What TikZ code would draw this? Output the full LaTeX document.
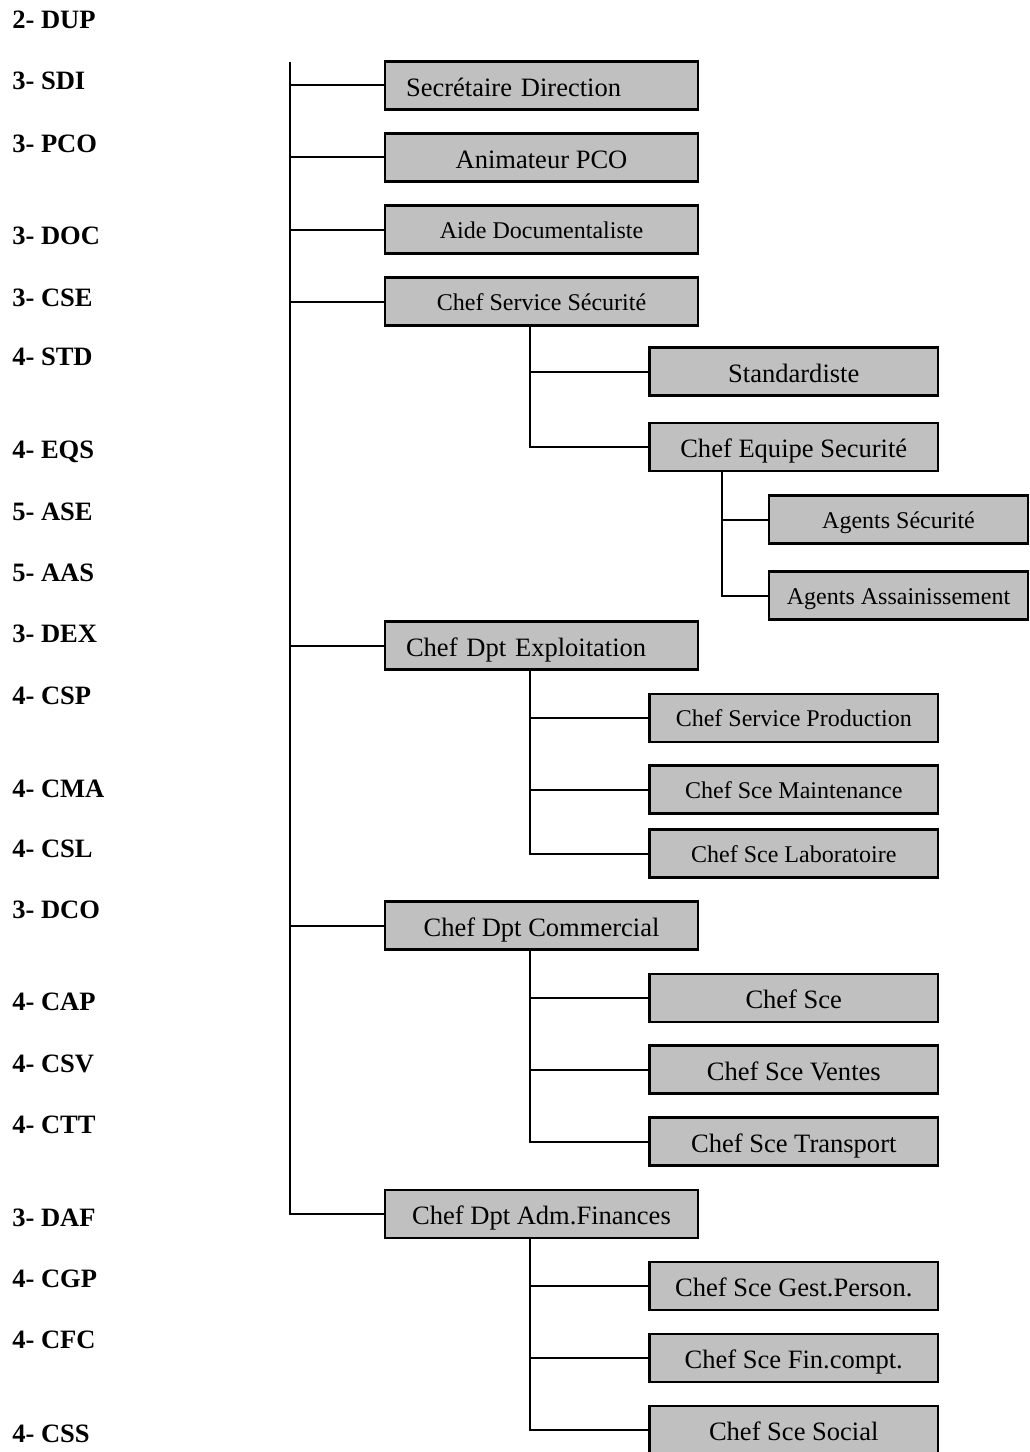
\documentclass[tikz,border=0pt]{standalone}
\usepackage{fontspec}
\setmainfont{Liberation Serif}
\begin{document}
\begin{tikzpicture}[x=0.75pt,y=-0.75pt,
  box/.style={draw=black,line width=1.6pt,fill=boxgray,rectangle,minimum height=36pt,inner sep=0pt,text depth=0pt},
  big/.style={font=\fontsize{19.9}{24}\selectfont,text height=15.8pt},
  small/.style={font=\fontsize{18}{22}\selectfont,text height=13.2pt},
  lvA/.style={box,minimum width=234.75pt},
  lvB/.style={box,minimum width=216.4pt},
  lvC/.style={box,minimum width=194.25pt},
  leftbox/.style={text width=203.25pt,align=left,inner xsep=15.75pt},
  lab/.style={anchor=base west,inner sep=0pt,font=\fontsize{19.9}{24}\selectfont\bfseries},
  conn/.style={line width=1.5pt}]
\definecolor{boxgray}{HTML}{C0C0C0}
\useasboundingbox (0,0) rectangle (1029,1452);
\clip (0,0) rectangle (1029,1452);
% left labels
\node[lab] (l1) at (12,29) {2- DUP};
\node[lab] (l2) at (12,90) {3- SDI};
\node[lab] (l3) at (12,152) {3- PCO};
\node[lab] (l4) at (12,244) {3- DOC};
\node[lab] (l5) at (12,306) {3- CSE};
\node[lab] (l6) at (12,365) {4- STD};
\node[lab] (l7) at (12,458) {4- EQS};
\node[lab] (l8) at (12,520) {5- ASE};
\node[lab] (l9) at (12,581) {5- AAS};
\node[lab] (l10) at (12,642) {3- DEX};
\node[lab] (l11) at (12,704) {4- CSP};
\node[lab] (l12) at (12,797) {4- CMA};
\node[lab] (l13) at (12,857) {4- CSL};
\node[lab] (l14) at (12,918) {3- DCO};
\node[lab] (l15) at (12,1010) {4- CAP};
\node[lab] (l16) at (12,1072) {4- CSV};
\node[lab] (l17) at (12,1133) {4- CTT};
\node[lab] (l18) at (12,1226) {3- DAF};
\node[lab] (l19) at (12,1287) {4- CGP};
\node[lab] (l20) at (12,1348) {4- CFC};
\node[lab] (l21) at (12,1442) {4- CSS};
% level 1
\node[lvA,big,leftbox] (sdi) at (541.5,85.5) {Secrétaire Direction};
\node[lvA,big] (pco) at (541.5,157.5) {Animateur PCO};
\node[lvA,small] (doc) at (541.5,229.5) {Aide Documentaliste};
\node[lvA,small] (cse) at (541.5,301.5) {Chef Service Sécurité};
\node[lvA,big,leftbox] (dex) at (541.5,645.5) {Chef Dpt Exploitation};
\node[lvA,big] (dco) at (541.5,925.5) {Chef Dpt Commercial};
\node[lvA,big] (daf) at (541.5,1214) {Chef Dpt Adm.Finances};
% level 2
\node[lvB,big] (std) at (793.75,371.5) {Standardiste};
\node[lvB,big] (eqs) at (793.75,447) {Chef Equipe Securité};
\node[lvB,small] (csp) at (793.75,718) {Chef Service Production};
\node[lvB,small] (cma) at (793.75,789.5) {Chef Sce Maintenance};
\node[lvB,small] (csl) at (793.75,853.5) {Chef Sce Laboratoire};
\node[lvB,big] (cap) at (793.75,998) {Chef Sce};
\node[lvB,big] (csv) at (793.75,1069.5) {Chef Sce Ventes};
\node[lvB,big] (ctt) at (793.75,1141.5) {Chef Sce Transport};
\node[lvB,big] (cgp) at (793.75,1286) {Chef Sce Gest.Person.};
\node[lvB,big] (cfc) at (793.75,1358) {Chef Sce Fin.compt.};
\node[lvB,big] (css) at (793.75,1430) {Chef Sce Social};
% level 3
\node[lvC,small] (ase) at (898.5,519.5) {Agents Sécurité};
\node[lvC,small] (aas) at (898.5,595.5) {Agents Assainissement};
% trunk
\coordinate (trunk) at (290,62);
\draw[conn] (trunk) |- (daf.west);
\foreach \n in {sdi,pco,doc,cse,dex,dco}
  \draw[conn] (trunk |- \n.west) -- (\n.west);
% sub trunks
\coordinate (jcse) at ([xshift=-9pt]cse.south);
\draw[conn] (jcse) |- (eqs.west);
\draw[conn] (jcse |- std.west) -- (std.west);
\coordinate (jeqs) at ([xshift=-53.8pt]eqs.south);
\draw[conn] (jeqs) |- (aas.west);
\draw[conn] (jeqs |- ase.west) -- (ase.west);
\coordinate (jdex) at ([xshift=-8.6pt]dex.south);
\draw[conn] (jdex) |- (csl.west);
\draw[conn] (jdex |- csp.west) -- (csp.west);
\draw[conn] (jdex |- cma.west) -- (cma.west);
\coordinate (jdco) at ([xshift=-8.6pt]dco.south);
\draw[conn] (jdco) |- (ctt.west);
\draw[conn] (jdco |- cap.west) -- (cap.west);
\draw[conn] (jdco |- csv.west) -- (csv.west);
\coordinate (jdaf) at ([xshift=-8.6pt]daf.south);
\draw[conn] (jdaf) |- (css.west);
\draw[conn] (jdaf |- cgp.west) -- (cgp.west);
\draw[conn] (jdaf |- cfc.west) -- (cfc.west);
\end{tikzpicture}
\end{document}
